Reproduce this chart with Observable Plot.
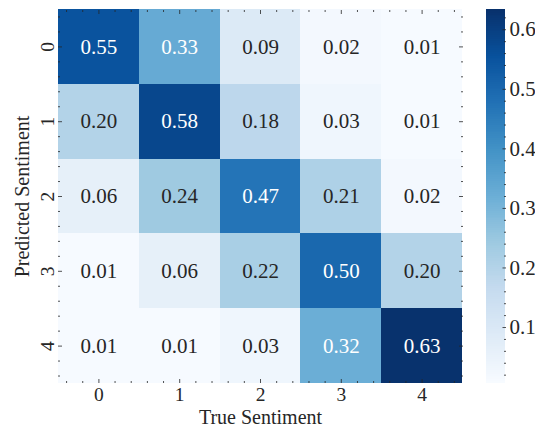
<!DOCTYPE html>
<html><head><meta charset="utf-8">
<script src="https://cdn.jsdelivr.net/npm/d3@7"></script>
<script src="https://cdn.jsdelivr.net/npm/@observablehq/plot@0.6"></script>
<style>
html,body{margin:0;padding:0;background:#fff;}
#chart{display:flex;flex-direction:row;width:535px;height:426px;}
</style></head><body><div id="chart"></div>
<script>
// categories
const trueLabels = [0, 1, 2, 3, 4];
const predLabels = [0, 1, 2, 3, 4];
// rows = predicted sentiment, columns = true sentiment
const row0 = [0.55, 0.33, 0.09, 0.02, 0.01];
const row1 = [0.20, 0.58, 0.18, 0.03, 0.01];
const row2 = [0.06, 0.24, 0.47, 0.21, 0.02];
const row3 = [0.01, 0.06, 0.22, 0.50, 0.20];
const row4 = [0.01, 0.01, 0.03, 0.32, 0.63];
// colorbar
const colorTicks = [0.1, 0.2, 0.3, 0.4, 0.5, 0.6];
const colorMin = 0.006, colorMax = 0.634;
const blues = ["#f7fbff","#deebf7","#c6dbef","#9ecae1","#6baed6","#4292c6","#2171b5","#08519c","#08306b"];

const rows = [row0, row1, row2, row3, row4];
const cells = rows.flatMap((r, p) => r.map((v, t) => ({t: trueLabels[t], p: predLabels[p], v})));

const colorScale = {type: "linear", domain: [colorMin, colorMax], interpolate: d3.piecewise(d3.interpolateRgb, blues)};
const font = "'Liberation Serif', 'Times New Roman', serif";
const ink = "#262626";
const fs = 21;
const style = `font-family:${font};font-size:${fs}px;color:${ink};background:transparent;overflow:visible;`;

// minor tick positions (5 per cell)
const minor = [];
for (const i of trueLabels) for (const o of [-0.4, -0.2, 0.2, 0.4]) minor.push(i + o);
const blank = () => "";
const tk = {stroke: ink, strokeWidth: 0.8, tickFormat: blank, label: null};

const heat = Plot.plot({
  width: 470, height: 426,
  marginLeft: 58, marginRight: 8, marginTop: 9, marginBottom: 43,
  style,
  x: {domain: [-0.5, 4.5], axis: null},
  y: {domain: [-0.5, 4.5], reverse: true, axis: null},
  color: colorScale,
  marks: [
    Plot.rect(cells, {x1: d => d.t - 0.5, x2: d => d.t + 0.5, y1: d => d.p - 0.5, y2: d => d.p + 0.5, fill: "v", shapeRendering: "crispEdges"}),
    Plot.text(cells.filter(d => d.v > 0.3), {x: "t", y: "p", text: d => d.v.toFixed(2), fill: "white", fontSize: fs}),
    Plot.text(cells.filter(d => d.v <= 0.3), {x: "t", y: "p", text: d => d.v.toFixed(2), fill: ink, fontSize: fs}),
    // inward ticks on all four sides
    Plot.axisX(minor, {anchor: "bottom", tickSize: -2, ...tk}),
    Plot.axisX(trueLabels, {anchor: "bottom", tickSize: -4, ...tk}),
    Plot.axisX(minor, {anchor: "top", tickSize: -2, ...tk}),
    Plot.axisX(trueLabels, {anchor: "top", tickSize: -4, ...tk}),
    Plot.axisY(minor, {anchor: "left", tickSize: -2, ...tk}),
    Plot.axisY(predLabels, {anchor: "left", tickSize: -4, ...tk}),
    Plot.axisY(minor, {anchor: "right", tickSize: -2, ...tk}),
    Plot.axisY(predLabels, {anchor: "right", tickSize: -4, ...tk}),
    // tick labels
    Plot.axisX(trueLabels, {anchor: "bottom", tickSize: 0, tickPadding: 4, fontSize: 19.5, fill: ink, label: null, tickFormat: d => String(d)}),
    Plot.text(predLabels, {y: d => d, frameAnchor: "left", textAnchor: "middle", text: d => String(d), rotate: -90, lineAnchor: "bottom", dx: -5, fontSize: 19.5, fill: ink}),
    // axis titles
    Plot.text(["True Sentiment"], {frameAnchor: "bottom", textAnchor: "middle", lineAnchor: "bottom", dy: 40, fontSize: 20, fill: ink}),
    Plot.text(["Predicted Sentiment"], {frameAnchor: "left", textAnchor: "middle", lineAnchor: "bottom", rotate: -90, dx: -30, fontSize: 20, fill: ink})
  ]
});

const N = 200;
const gradient = d3.range(N).map(i => ({
  y1: colorMin + i * (colorMax - colorMin) / N,
  y2: colorMin + Math.min(N, i + 1.5) * (colorMax - colorMin) / N,
  c: colorMin + (i + 0.5) * (colorMax - colorMin) / N
}));
const colorMinor = [];
for (let k = 1; k <= 31; k++) if (k % 5 !== 0) colorMinor.push(k / 50);

const bar = Plot.plot({
  width: 65, height: 426,
  marginLeft: 16, marginRight: 30, marginTop: 9, marginBottom: 43,
  style,
  y: {domain: [colorMin, colorMax], axis: null},
  color: colorScale,
  marks: [
    Plot.rect(gradient, {y1: "y1", y2: "y2", fill: "c", shapeRendering: "crispEdges"}),
    Plot.axisY(colorMinor.filter(v => v >= colorMin && v <= colorMax), {anchor: "right", tickSize: -2, stroke: ink, strokeWidth: 0.8, tickFormat: blank, label: null}),
    Plot.axisY(colorTicks, {anchor: "right", tickSize: -3.5, stroke: ink, strokeWidth: 0.8, tickFormat: blank, label: null}),
    Plot.axisY(colorTicks, {anchor: "right", tickSize: 0, tickPadding: 4, fontSize: fs, fill: ink, label: null, tickFormat: d => d.toFixed(1)})
  ]
});

const root = document.getElementById("chart");
root.appendChild(heat);
root.appendChild(bar);
</script></body></html>
